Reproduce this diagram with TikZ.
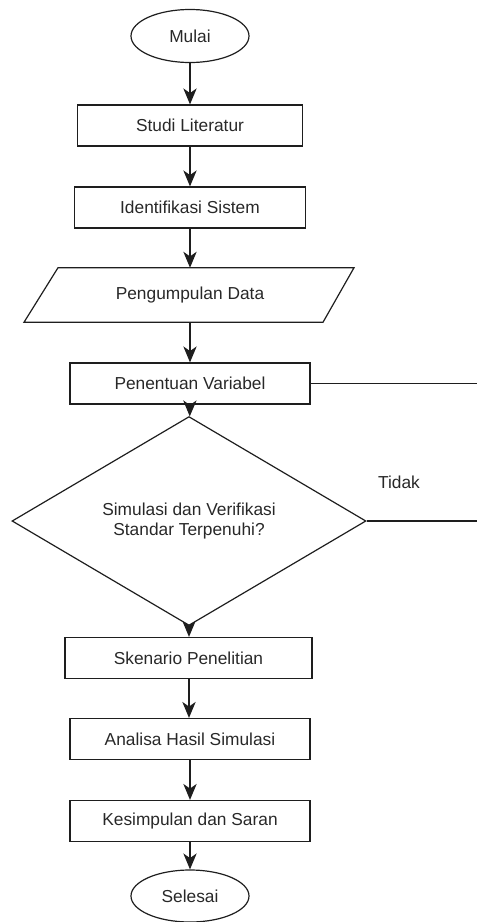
\documentclass[tikz,border=0pt]{standalone}
\usepackage{fontspec}
\setmainfont{Liberation Sans}
\usetikzlibrary{arrows.meta,shapes.geometric,calc}
\newcommand{\pxu}{0.75pt}
\definecolor{garisGelap}{RGB}{30,30,30}
\definecolor{teksGelap}{RGB}{40,40,40}
\tikzset{
  terminal/.style={draw=garisGelap, ellipse, line width=0.9pt, minimum width=118*\pxu, minimum height=53*\pxu, inner sep=0pt},
  proses/.style={draw=garisGelap, line width=0.9pt, minimum height=41*\pxu, inner sep=0pt},
  masukan/.style={minimum height=54*\pxu, inner sep=0pt},
  keputusan/.style={draw=garisGelap, diamond, line width=0.9pt, minimum width=354*\pxu, minimum height=153*\pxu, inner sep=0pt, align=center},
  panah/.style={draw=garisGelap, line width=0.9pt, -{Stealth[length=12pt,width=10pt,inset=3.5pt]}},
  garis/.style={draw=garisGelap, line width=0.9pt}
}

\begin{document}
\begin{tikzpicture}[x=0.75pt,y=-0.75pt, font=\fontsize{13}{14.5}\selectfont, text=teksGelap]
\useasboundingbox (0,0) rectangle (477,922);
\node[terminal] (mulai) at (190,36) {Mulai};
\node[proses, minimum width=225*\pxu] (studi) at (190,125.5) {Studi Literatur};
\node[proses, minimum width=231*\pxu] (identifikasi) at (190,207.5) {Identifikasi Sistem};
\node[masukan] (data) at (190,295) {Pengumpulan Data};
\draw[garis] ($(data.north)+(-132,0)$) -- ($(data.north)+(164,0)$)
  -- ($(data.south)+(133,0)$) -- ($(data.south)+(-166,0)$) -- cycle;
\node[proses, minimum width=240*\pxu] (variabel) at (190,383.5) {Penentuan Variabel};
\node[keputusan] (cek) at (189,521) {Simulasi dan Verifikasi\\Standar Terpenuhi?};
\node (tidak) at (399,482) {Tidak};
\node[proses, minimum width=247*\pxu] (skenario) at (188.5,658) {Skenario Penelitian};
\node[proses, minimum width=240*\pxu] (analisa) at (190,739) {Analisa Hasil Simulasi};
\node[proses, minimum width=240*\pxu] (kesimpulan) at (190,821) {Kesimpulan dan Saran};
\node[terminal, minimum height=52*\pxu] (selesai) at (190,896) {Selesai};
\coordinate (ujungA) at (477,383.5);
\coordinate (ujungB) at (477,521);
% alur utama
\draw[panah] (mulai) -- (studi);
\draw[panah] (studi) -- (identifikasi);
\draw[panah] (identifikasi) -- (data);
\draw[panah] (data) -- (variabel);
\draw[panah] (variabel) -- (cek);
\draw[panah] (cek) -- (cek |- skenario.north);
\draw[panah] (skenario.south -| cek) -- (cek |- analisa.north);
\draw[panah] (analisa) -- (kesimpulan);
\draw[panah] (kesimpulan) -- (selesai);
% cabang kanan
\draw[garis] (variabel.east) -- (ujungA);
\draw[garis] (cek.east) -- (ujungB);
\end{tikzpicture}
\end{document}
